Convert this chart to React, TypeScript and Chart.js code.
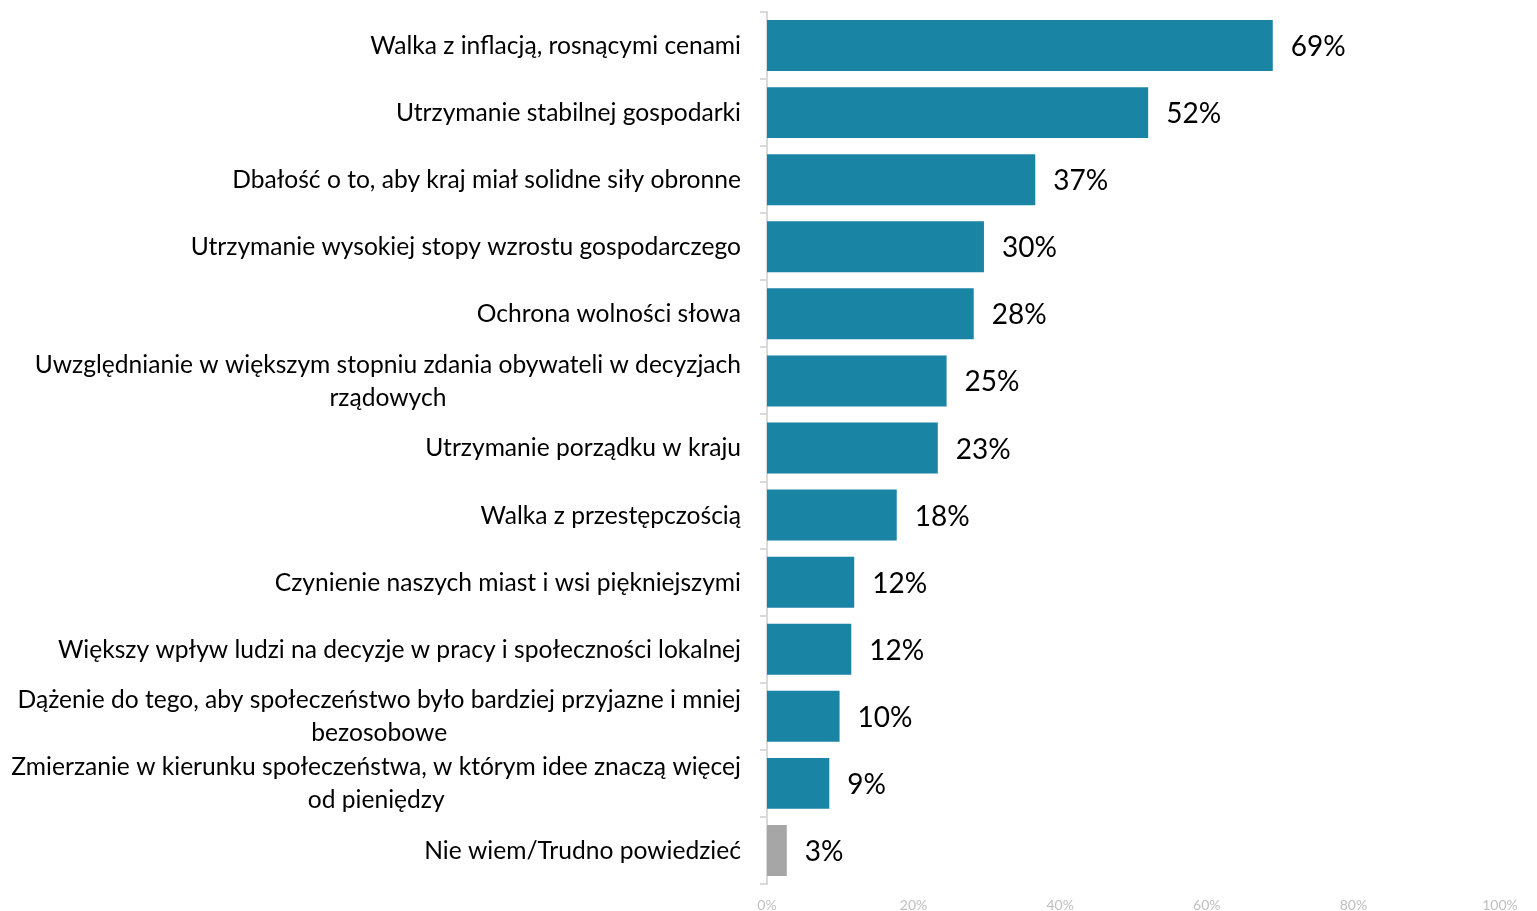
import React, { useEffect, useRef } from "react";
import { Chart, registerables } from "chart.js";

Chart.register(...registerables);

const categories: (string | string[])[] = [
  "Walka z inflacją, rosnącymi cenami",
  "Utrzymanie stabilnej gospodarki",
  "Dbałość o to, aby kraj miał solidne siły obronne",
  "Utrzymanie wysokiej stopy wzrostu gospodarczego",
  "Ochrona wolności słowa",
  ["Uwzględnianie w większym stopniu zdania obywateli w decyzjach", "rządowych"],
  "Utrzymanie porządku w kraju",
  "Walka z przestępczością",
  "Czynienie naszych miast i wsi piękniejszymi",
  "Większy wpływ ludzi na decyzje w pracy i społeczności lokalnej",
  ["Dążenie do tego, aby społeczeństwo było bardziej przyjazne i mniej", "bezosobowe"],
  ["Zmierzanie w kierunku społeczeństwa, w którym idee znaczą więcej", "od pieniędzy"],
  "Nie wiem/Trudno powiedzieć",
];

const values: number[] = [69, 52, 36.6, 29.6, 28.2, 24.5, 23.3, 17.7, 11.9, 11.5, 9.9, 8.5, 2.7];
const valueLabels: string[] = ["69%", "52%", "37%", "30%", "28%", "25%", "23%", "18%", "12%", "12%", "10%", "9%", "3%"];
const xTicks: number[] = [0, 20, 40, 60, 80, 100];

const BLUE = "#1984A4";
const GRAY = "#A6A6A6";
const FONT = "Lato, 'Open Sans', sans-serif";

export default function App() {
  const ref = useRef<HTMLCanvasElement | null>(null);

  useEffect(() => {
    if (!ref.current) return;
    const colors = categories.map((_, i) => (i === categories.length - 1 ? GRAY : BLUE));

    const labelPlugin = {
      id: "customLabels",
      afterDraw(chart: any) {
        const ctx = chart.ctx;
        const y = chart.scales.y;
        const x = chart.scales.x;
        ctx.save();
        // category labels
        ctx.font = `24.6px ${FONT}`;
        ctx.fillStyle = "#000";
        ctx.textBaseline = "middle";
        ctx.textAlign = "center";
        const right = 741;
        const lh = 33;
        categories.forEach((c, i) => {
          const lines = Array.isArray(c) ? c : [c];
          const w = Math.max(...lines.map((l) => ctx.measureText(l).width));
          const cy = y.getPixelForValue(i);
          lines.forEach((l, k) => {
            ctx.fillText(l, right - w / 2, cy + 0.5 - ((lines.length - 1) * lh) / 2 + k * lh);
          });
        });
        // value labels
        ctx.font = `28px ${FONT}`;
        ctx.textAlign = "left";
        values.forEach((v, i) => {
          const px = x.getPixelForValue(v);
          const cy = y.getPixelForValue(i);
          ctx.fillText(valueLabels[i], px + 18, cy + 1.5);
        });
        ctx.restore();
      },
    };

    const chart = new Chart(ref.current, {
      type: "bar",
      data: {
        labels: categories.map((c) => (Array.isArray(c) ? c.join(" ") : c)),
        datasets: [
          {
            data: values,
            backgroundColor: colors,
            barPercentage: 0.76,
            categoryPercentage: 1,
          },
        ],
      },
      options: {
        indexAxis: "y",
        animation: false,
        responsive: true,
        maintainAspectRatio: false,
        layout: { padding: { top: 12, right: 37, left: 0, bottom: 0 } },
        plugins: { legend: { display: false }, tooltip: { enabled: false } },
        scales: {
          x: {
            min: 0,
            max: 100,
            afterBuildTicks: (scale: any) => {
              scale.ticks = xTicks.map((v) => ({ value: v }));
            },
            grid: { display: false },
            border: { display: false },
            ticks: {
              color: "#BFBFBF",
              font: { family: FONT, size: 14 },
              padding: 5,
              callback: (v: any) => v + "%",
            },
            afterFit: (scale: any) => {
              scale.height = 27;
            },
          },
          y: {
            grid: {
              display: true,
              drawOnChartArea: false,
              tickLength: 7,
              color: "#D9D9D9",
              lineWidth: 2,
            },
            border: { display: true, color: "#D9D9D9", width: 2 },
            ticks: { display: false },
            afterFit: (scale: any) => {
              scale.width = 767;
            },
          },
        },
      },
      plugins: [labelPlugin],
    } as any);
    return () => chart.destroy();
  }, []);

  return (
    <div style={{ position: "absolute", left: 0, top: 0, width: 1537, height: 911 }}>
      <canvas ref={ref} />
    </div>
  );
}
